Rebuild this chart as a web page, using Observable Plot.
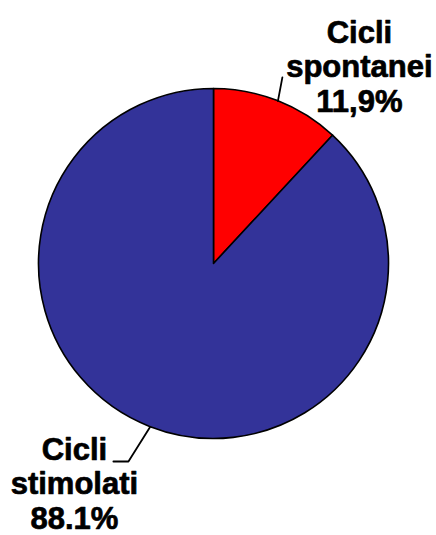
<!DOCTYPE html>
<html>
<head>
<meta charset="utf-8">
<script src="https://cdn.jsdelivr.net/npm/d3@7"></script>
<script src="https://cdn.jsdelivr.net/npm/@observablehq/plot@0.6"></script>
<style>
  html, body { margin: 0; padding: 0; background: #ffffff; }
  #chart svg { display: block; }
</style>
</head>
<body>
<div id="chart"></div>
<script>
// ---- data ----
const categories = ["Cicli spontanei", "Cicli stimolati"];
const values = [11.9, 88.1];
const valueLabels = ["11,9%", "88.1%"];
const labelLines = [["Cicli", "spontanei"], ["Cicli", "stimolati"]];

// ---- styles / layout (not data) ----
const colors = ["#ff0000", "#333399"];
const leaderLayout = [
  {dAngle: -1.3, r: 1.136, elbow: 0, dx: 77, dy: -11, lh: 1.12},
  {dAngle: 2.0, r: 1.23, elbow: -0.086, dx: -39, dy: 22, lh: 1.1}
];

const rows = categories.map((c, i) => ({category: c, value: values[i], label: labelLines[i].concat([valueLabels[i]]).join("\n"), color: colors[i]}));
const arcs = d3.pie().sort(null).value(d => d.value)(rows);

const polar = (a, r) => [r * Math.sin(a), r * Math.cos(a)];

const leaders = [];
const labels = [];
arcs.forEach((a, i) => {
  const L = leaderLayout[i];
  const mid = (a.startAngle + a.endAngle) / 2;
  const [x0, y0] = polar(mid, 1);
  const [x1, y1] = polar(mid + L.dAngle * Math.PI / 180, L.r);
  leaders.push({k: i, x: x0, y: y0});
  leaders.push({k: i, x: x1, y: y1});
  let xe = x1;
  if (L.elbow) { xe = x1 + L.elbow; leaders.push({k: i, x: xe, y: y1}); }
  labels.push({x: xe, y: y1, text: a.data.label, dx: L.dx, dy: L.dy, lh: L.lh});
});

function pieMark(index, scales) {
  const cx = scales.x(0), cy = scales.y(0);
  const R = scales.x(1) - scales.x(0);
  const arcGen = d3.arc().innerRadius(0).outerRadius(R);
  const g = d3.create("svg:g").attr("transform", `translate(${cx},${cy})`);
  g.selectAll("path").data(arcs).join("path")
    .attr("d", arcGen)
    .attr("fill", d => d.data.color)
    .attr("stroke", "#000")
    .attr("stroke-width", 1.6)
    .attr("stroke-linejoin", "round");
  return g.node();
}

const textMarks = labels.map(l => Plot.text([l], {
  x: "x", y: "y", text: "text",
  dx: l.dx, dy: l.dy,
  textAnchor: "middle", lineAnchor: "middle", lineHeight: l.lh,
  fontSize: 31, fontWeight: "bold", fill: "#000",
  stroke: "#000", strokeWidth: 0.7, paintOrder: "normal",
  fontFamily: "'Liberation Sans', Arial, sans-serif"
}));

const chart = Plot.plot({
  width: 436,
  height: 535,
  margin: 0,
  style: {background: "#ffffff", overflow: "visible"},
  x: {domain: [-1, 1], range: [38.5, 388.5], axis: null},
  y: {domain: [-1, 1], range: [438.5, 88.5], axis: null},
  marks: [
    pieMark,
    Plot.line(leaders, {x: "x", y: "y", z: "k", stroke: "#000", strokeWidth: 1.8}),
    ...textMarks
  ]
});
document.getElementById("chart").appendChild(chart);
</script>
</body>
</html>
